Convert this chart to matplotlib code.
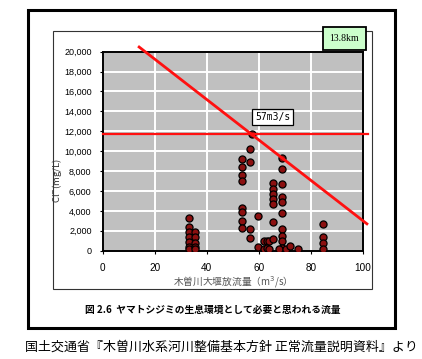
import matplotlib.pyplot as plt
from matplotlib.patches import Rectangle

# --- data ---
flow = [33, 33, 33, 33, 33, 33, 33,
        35.5, 35.5, 35.5, 35.5, 35.5,
        53.5, 53.5, 53.5, 53.5, 53.5, 53.5, 53.5, 53.5,
        56.5, 56.5, 56.5, 56.5,
        57.2,
        59.5, 59.5,
        62, 62, 63, 63, 64, 64,
        65.5, 65.5, 65.5, 65.5, 65.5, 65.5, 65.5,
        68.7, 68.7, 68.7, 68.7, 68.7, 68.7, 68.7, 68.7, 68.7, 68.7,
        67.8, 70.6, 72, 75,
        84.7, 84.7, 84.7, 84.7]
chloride = [3300, 2350, 1900, 1350, 850, 400, 130,
            1850, 1350, 800, 400, 130,
            9200, 8400, 7600, 7000, 4250, 3900, 3000, 2300,
            10200, 8900, 2150, 1300,
            11750,
            3500, 350,
            1000, 150, 950, 300, 1000, 150,
            6800, 6200, 5650, 5150, 4650, 2850, 1150,
            9300, 8200, 6700, 5400, 4900, 3800, 2200, 1500, 1000, 300,
            200, 150, 450, 150,
            2650, 1400, 800, 150]

threshold_x = [0, 102]
threshold_y = [11700, 11700]
trend_x = [14, 101.5]
trend_y = [20470, 2700]

x_ticks = [0, 20, 40, 60, 80, 100]
y_ticks = list(range(0, 20001, 2000))
y_ticklabels = [f"{v:,}" for v in y_ticks]

cjk = ['Noto Sans CJK JP', 'DejaVu Sans']

# --- figure ---
W, H = 422, 359
fig = plt.figure(figsize=(W / 100, H / 100), dpi=100)
fig.patch.set_facecolor('white')

def fx(px):
    return px / W

def fy(py):
    return 1 - py / H

# outer thick frame and inner chart frame
fig.add_artist(Rectangle((fx(28), fy(328)), fx(395) - fx(28), fy(10) - fy(328),
                         transform=fig.transFigure, fill=False, lw=2.2, ec='black'))
fig.add_artist(Rectangle((fx(53), fy(289)), fx(372) - fx(53), fy(31) - fy(289),
                         transform=fig.transFigure, fill=False, lw=0.8, ec='#333333'))

ax = fig.add_axes([fx(102.7), fy(250.7), fx(363) - fx(102.7), fy(51.7) - fy(250.7)])
ax.set_facecolor('#C0C0C0')
ax.set_xlim(0, 100)
ax.set_ylim(0, 20000)
ax.set_xticks(x_ticks)
ax.set_yticks(y_ticks)
ax.set_yticklabels(y_ticklabels)
ax.grid(True, color='white', lw=1.4)
ax.set_axisbelow(True)
for s in ax.spines.values():
    s.set_color('black')
    s.set_linewidth(1.4)
ax.tick_params(axis='both', length=2, width=0.8, direction='out')
ax.tick_params(axis='y', labelsize=6.5, pad=6)
ax.tick_params(axis='x', labelsize=7.2, pad=7)
for lab in ax.get_xticklabels() + ax.get_yticklabels():
    lab.set_family('Liberation Sans')

ax.scatter(flow, chloride, s=26, c='#8B1010', edgecolors='black', linewidths=0.9, zorder=3)

ax.plot(threshold_x, threshold_y, color='#FF1010', lw=1.6, clip_on=False, zorder=4)
ax.plot(trend_x, trend_y, color='#FF1010', lw=2.0, clip_on=False, zorder=4)

ax.text(65.4, 13440, '57m3/s', family='DejaVu Sans Mono', fontsize=7, ha='center', va='center',
        bbox=dict(boxstyle='square,pad=0.3', fc='white', ec='black', lw=0.9), zorder=5)

fig.text(fx(344.5), fy(38.5), '13.8km', family='Liberation Serif', fontsize=7,
         ha='center', va='center',
         bbox=dict(boxstyle='square,pad=0.7', fc='#CCFFCC', ec='black', lw=1.3))

fig.text(fx(57), fy(180), 'Cl$^{-}$(mg/L)', family=cjk, fontsize=6.8, rotation=90,
         ha='center', va='center', color='#333333')
fig.text(fx(230), fy(282), '木曽川大堰放流量（m$^3$/s）', family=cjk, fontsize=7,
         ha='center', va='center', color='#555555')

fig.text(fx(213), fy(310), '図 2.6  ヤマトシジミの生息環境として必要と思われる流量', family=cjk,
         fontsize=7, fontweight='bold', ha='center', va='center')
fig.text(fx(25), fy(347), '国土交通省『木曽川水系河川整備基本方針 正常流量説明資料』より', family=cjk,
         fontsize=9.35, ha='left', va='center')

fig.savefig('out.png', dpi=100)
